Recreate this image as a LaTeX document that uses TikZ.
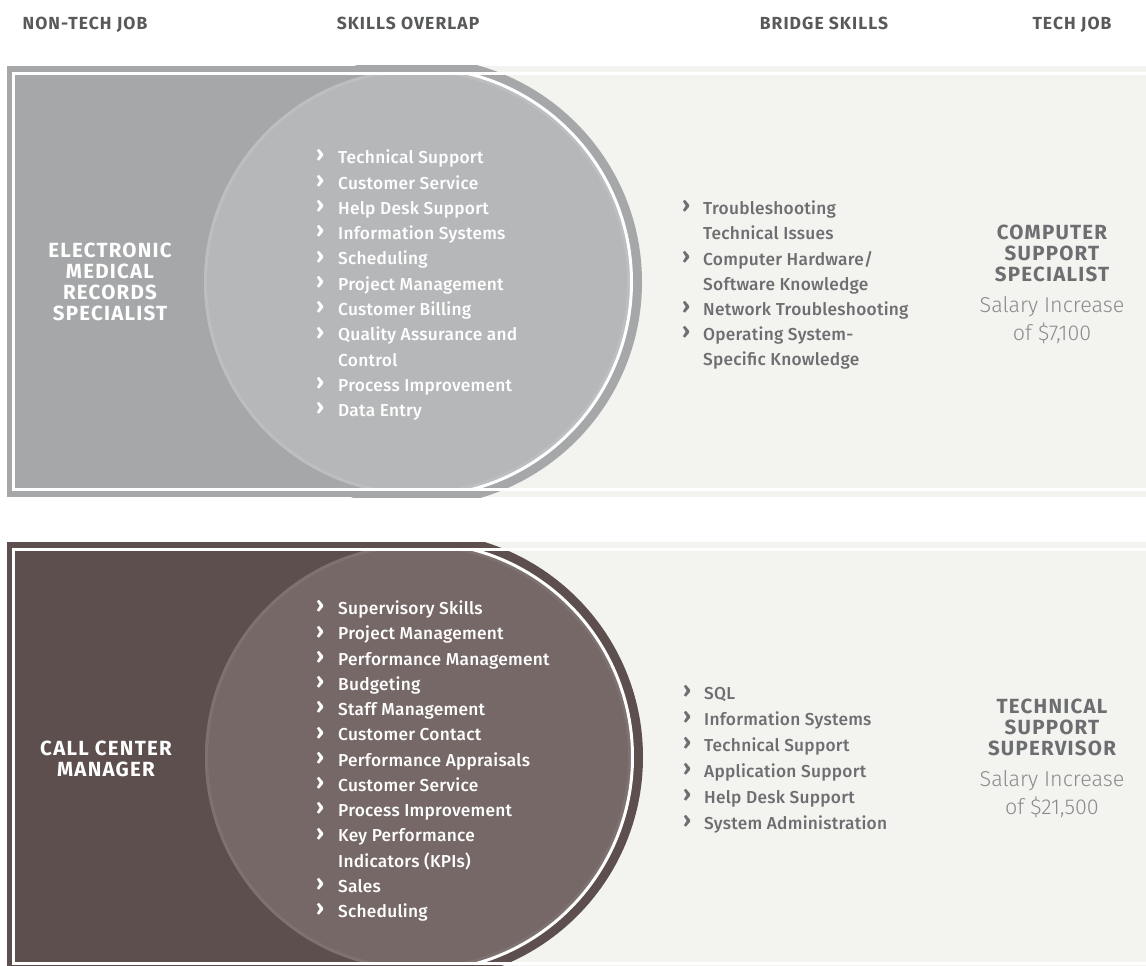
\documentclass[tikz,border=0pt]{standalone}
\usepackage{fontspec}
\setmainfont{Fira Sans}[BoldFont={Fira Sans Bold}]
\newfontfamily\lightfont{Fira Sans Light}
\newfontfamily\medfont{Fira Sans Medium}[LetterSpace=1.5, BoldFont={Fira Sans Bold}]
\newfontfamily\dispfont{Fira Sans Bold}[LetterSpace=6]
\definecolor{panelbg}{HTML}{F3F3EF}
\definecolor{darkA}{HTML}{A6A7A9}
\definecolor{circA}{HTML}{B6B7B9}
\definecolor{rimA}{HTML}{BDBEC0}
\definecolor{darkB}{HTML}{5C4F4E}
\definecolor{circB}{HTML}{756866}
\definecolor{rimB}{HTML}{7E7270}
\definecolor{hdrgray}{HTML}{58595B}
\definecolor{txtgray}{HTML}{6D6E71}
\definecolor{salgray}{HTML}{8A8B8D}
\newcommand\chev{{\fontsize{22}{22}\bfseries\raisebox{1.8pt}{›}}}
\newcommand\bul{\makebox[22pt][l]{\chev}}
\newcommand\bulr{\makebox[21pt][l]{\chev}}
\newcommand\drawpanel[7]{%
  % #1 top, #2 bottom, #3 centre y, #4 dark, #5 circle, #6 rim, #7 centre x
  \fill[panelbg] (7,#1) rectangle (1160,#2);
  \begin{scope}
    \clip (7,#1) rectangle (1160,#2);
    \fill[#4] (7,#1) rectangle (#7,#2);
    \fill[#4] (#7,#3) circle[radius=225pt];
  \end{scope}
  \begin{scope}
    \clip (15,#1+9) rectangle (1160,#2-9);
    \fill[#5] (#7,#3) circle[radius=213pt];
    \draw[#6, line width=3pt] (#7,#3) circle[radius=211.5pt];
  \end{scope}
  \begin{scope}
    \clip (#7,#1+7.5) rectangle (1160,#2-7.5);
    \draw[white, line width=3pt] (#7,#3) circle[radius=214.5pt];
  \end{scope}
  \draw[white, line width=3pt] (13.5,#1+7.5) rectangle (1170,#2-7.5);
}
\begin{document}
\begin{tikzpicture}[x=1pt,y=-1pt,
  hdr/.style={anchor=base, inner sep=0pt, text=hdrgray, font=\dispfont\fontsize{17.5}{19}\selectfont},
  jobtitle/.style={anchor=north, inner sep=0pt, align=center, text=white, font=\dispfont\fontsize{20.5}{21}\selectfont},
  circlist/.style={anchor=north west, inner sep=0pt, align=left, text=white},
  bridgelist/.style={anchor=north west, inner sep=0pt, align=left, text=txtgray},
  techtitle/.style={anchor=north, inner sep=0pt, align=center, text=txtgray, font=\dispfont\fontsize{20.5}{21.3}\selectfont},
  salary/.style={anchor=north, inner sep=0pt, align=center, text=salgray, font=\lightfont\fontsize{21.5}{28.3}\selectfont}]
\useasboundingbox (0,0) rectangle (1146,966);
\clip (0,0) rectangle (1146,966);
\fill[white] (0,0) rectangle (1146,966);

% headers
\node[hdr] (h1) at (85,30) {NON-TECH JOB};
\node[hdr] (h2) at (408,30) {SKILLS OVERLAP};
\node[hdr] (h3) at (824,30) {BRIDGE SKILLS};
\node[hdr] (h4) at (1072,30) {TECH JOB};

% ---------- panel 1 ----------
\drawpanel{66}{497}{282}{darkA}{circA}{rimA}{417}
\node[jobtitle] (j1) at (110,243) {ELECTRONIC\\MEDICAL\\RECORDS\\SPECIALIST};
\node[circlist, font=\medfont\fontsize{17.3}{25.3}\selectfont] (o1) at (316,149.5) {%
\bul Technical Support\\
\bul Customer Service\\
\bul Help Desk Support\\
\bul Information Systems\\
\bul Scheduling\\
\bul Project Management\\
\bul Customer Billing\\
\bul Quality Assurance and\\
\hspace*{22pt}Control\\
\bul Process Improvement\\
\bul Data Entry};
\node[bridgelist, font=\medfont\fontsize{17.3}{25.2}\selectfont] (b1) at (682,200.5) {%
\bulr Troubleshooting\\
\hspace*{21pt}Technical Issues\\
\bulr Computer Hardware/\\
\hspace*{21pt}Software Knowledge\\
\bulr Network Troubleshooting\\
\bulr Operating System-\\
\hspace*{21pt}Specific Knowledge};
\node[techtitle] (t1) at (1052,224.5) {COMPUTER\\SUPPORT\\SPECIALIST};
\node[salary] (s1) at (1052,296) {Salary Increase\\of \$7,100};

% ---------- panel 2 ----------
\drawpanel{542}{971}{757}{darkB}{circB}{rimB}{418}
\node[jobtitle] (j2) at (106,741) {CALL CENTER\\MANAGER};
\node[circlist, font=\medfont\fontsize{17.3}{25.25}\selectfont] (o2) at (316,600.5) {%
\bul Supervisory Skills\\
\bul Project Management\\
\bul Performance Management\\
\bul Budgeting\\
\bul Staff Management\\
\bul Customer Contact\\
\bul Performance Appraisals\\
\bul Customer Service\\
\bul Process Improvement\\
\bul Key Performance\\
\hspace*{22pt}Indicators (KPIs)\\
\bul Sales\\
\bul Scheduling};
\node[bridgelist, font=\medfont\fontsize{17.3}{26}\selectfont] (b2) at (683,685.5) {%
\bulr SQL\\
\bulr Information Systems\\
\bulr Technical Support\\
\bulr Application Support\\
\bulr Help Desk Support\\
\bulr System Administration};
\node[techtitle] (t2) at (1052,698.5) {TECHNICAL\\SUPPORT\\SUPERVISOR};
\node[salary] (s2) at (1052,770.5) {Salary Increase\\of \$21,500};
\end{tikzpicture}
\end{document}
